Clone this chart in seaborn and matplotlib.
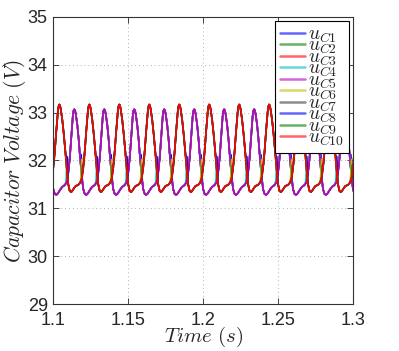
import numpy as np
import pandas as pd
import matplotlib
matplotlib.use("Agg")
import matplotlib.pyplot as plt
import seaborn as sns

# ---------------- data ----------------
labels = [r"$u_{C1}$", r"$u_{C2}$", r"$u_{C3}$", r"$u_{C4}$", r"$u_{C5}$",
          r"$u_{C6}$", r"$u_{C7}$", r"$u_{C8}$", r"$u_{C9}$", r"$u_{C10}$"]
colors = ["#0000ff", "#008000", "#ff0000", "#00bfbf", "#bf00bf",
          "#bfbf00", "#404040", "#0000ff", "#008000", "#ff0000"]

# peak instants (s) of the two arm waveforms
red_peaks = [1.084, 1.104, 1.124, 1.144, 1.164, 1.184, 1.204, 1.224, 1.244, 1.264, 1.284, 1.304]
mag_peaks = [1.094, 1.114, 1.134, 1.154, 1.174, 1.194, 1.214, 1.234, 1.254, 1.274, 1.294]

# one cycle after each peak: offset (ms) and voltage (V)
red_ms = [0, 0.5, 1, 2, 3, 4, 5, 6, 7, 8, 9, 10, 11, 12, 13, 14, 15, 16, 17, 18, 19, 19.5]
red_v = [33.17, 33.15, 33.07, 32.85, 32.55, 32.2, 31.82, 31.5, 31.36, 31.34, 31.38, 31.43,
         31.47, 31.48, 31.5, 31.54, 31.62, 31.85, 32.2, 32.62, 33.0, 33.13]

mag_ms = [0, 0.5, 1, 2, 3, 4, 5, 6, 7, 8, 9, 10, 11, 12, 13, 14, 15, 16, 17, 18, 19, 19.5]
mag_v = [33.07, 33.05, 32.97, 32.75, 32.42, 32.02, 31.65, 31.4, 31.3, 31.28, 31.31, 31.36,
         31.41, 31.45, 31.47, 31.5, 31.56, 31.75, 32.05, 32.5, 32.92, 33.04]

# capacitors that pause briefly near 32 V
c1_ms = [0, 0.5, 1, 2, 3, 3.6, 4.6, 5.0, 5.5, 6, 7, 8, 9, 10, 11, 12, 13, 14, 15, 16, 17, 18, 19, 19.5]
c1_v = [33.07, 33.05, 32.97, 32.75, 32.42, 32.14, 32.12, 31.75, 31.55, 31.4, 31.3, 31.28, 31.31, 31.36,
        31.41, 31.45, 31.47, 31.5, 31.56, 31.75, 32.05, 32.5, 32.92, 33.04]
c4_ms = [0, 0.5, 1, 2, 3, 4, 5, 6, 7, 8, 9, 10, 11, 12, 13, 14, 14.6, 15.0, 16.4, 17, 18, 19, 19.5]
c4_v = [33.07, 33.05, 32.97, 32.75, 32.42, 32.02, 31.65, 31.4, 31.3, 31.28, 31.31, 31.36,
        31.41, 31.45, 31.47, 31.5, 31.6, 31.95, 31.98, 32.1, 32.5, 32.92, 33.04]
c6_ms = [0, 0.5, 1, 2, 3, 4, 5, 6, 7, 8, 9, 10, 11, 12, 13, 14, 14.5, 15.0, 16.5, 17, 18, 19, 19.5]
c6_v = [33.17, 33.15, 33.07, 32.85, 32.55, 32.2, 31.82, 31.5, 31.36, 31.34, 31.38, 31.43,
        31.47, 31.48, 31.5, 31.54, 31.7, 32.02, 32.05, 32.2, 32.62, 33.0, 33.13]
c8_ms = [0, 0.5, 1, 2, 3, 4, 4.3, 5.2, 5.6, 6, 7, 8, 9, 10, 11, 12, 13, 14, 15, 16, 17, 18, 19, 19.5]
c8_v = [33.17, 33.15, 33.07, 32.85, 32.55, 32.2, 32.1, 32.08, 31.7, 31.5, 31.36, 31.34, 31.38, 31.43,
        31.47, 31.48, 31.5, 31.54, 31.62, 31.85, 32.2, 32.62, 33.0, 33.13]
c9_ms = [0, 0.5, 1, 2, 3, 4, 5, 6, 7, 8, 9, 10, 11, 12, 13, 14, 15, 15.4, 16.4, 17, 18, 19, 19.5]
c9_v = [33.17, 33.15, 33.07, 32.85, 32.55, 32.2, 31.82, 31.5, 31.36, 31.34, 31.38, 31.43,
        31.47, 31.48, 31.5, 31.54, 31.62, 31.9, 31.93, 32.2, 32.62, 33.0, 33.13]

# which cycle profile each capacitor follows
series_def = [
    (mag_peaks, c1_ms, c1_v), (mag_peaks, mag_ms, mag_v), (mag_peaks, mag_ms, mag_v),
    (mag_peaks, c4_ms, c4_v), (mag_peaks, mag_ms, mag_v),
    (red_peaks, c6_ms, c6_v), (red_peaks, red_ms, red_v), (red_peaks, c8_ms, c8_v),
    (red_peaks, c9_ms, c9_v), (red_peaks, red_ms, red_v),
]

rows = []
for lab, (peaks, ms, vs) in zip(labels, series_def):
    for p in peaks:
        for o, v in zip(ms, vs):
            rows.append((p + o / 1000.0, v, lab))
df = pd.DataFrame(rows, columns=["t", "v", "cap"])

# ---------------- styling ----------------
sns.set_style("ticks")
plt.rcParams["font.family"] = ["Liberation Sans", "DejaVu Sans"]
plt.rcParams["mathtext.fontset"] = "cm"

fig = plt.figure(figsize=(3.99, 3.51), dpi=100)
ax = fig.add_axes([0.1336, 0.1339, 0.7511, 0.8177])

sns.lineplot(data=df, x="t", y="v", hue="cap", hue_order=labels, palette=colors,
             estimator=None, sort=False, linewidth=1.2, ax=ax, legend=True)

ax.set_xlim(1.1, 1.3)
ax.set_ylim(29, 35)
ax.set_xticks([1.1, 1.15, 1.2, 1.25, 1.3])
ax.set_xticklabels(["1.1", "1.15", "1.2", "1.25", "1.3"])
ax.set_yticks([29, 30, 31, 32, 33, 34, 35])
ax.tick_params(direction="in", length=4, width=0.6, labelsize=13, colors="#262626",
               top=True, right=True, pad=4)
ax.tick_params(axis="x", pad=6)
for s in ax.spines.values():
    s.set_color("#333333")
    s.set_linewidth(0.8)
ax.grid(True, linestyle=(0, (1, 3)), color="#b0b0b0", linewidth=0.7)

ax.set_xlabel(r"$Time\ (s)$", fontsize=15, labelpad=-3)
ax.set_ylabel(r"$Capacitor\ Voltage\ (V)$", fontsize=15.5, labelpad=0)

handles, labs = ax.get_legend_handles_labels()
leg = ax.legend(handles, labs, loc="upper right", fontsize=14, frameon=True, fancybox=False,
                edgecolor="black", framealpha=1, labelspacing=-0.38, handlelength=1.3,
                handletextpad=0.15, borderpad=0.25, borderaxespad=0.2)
leg.get_frame().set_linewidth(0.8)
for h in leg.get_lines():
    h.set_alpha(0.6)
    h.set_linewidth(1.8)

fig.savefig("out.png", dpi=100)
